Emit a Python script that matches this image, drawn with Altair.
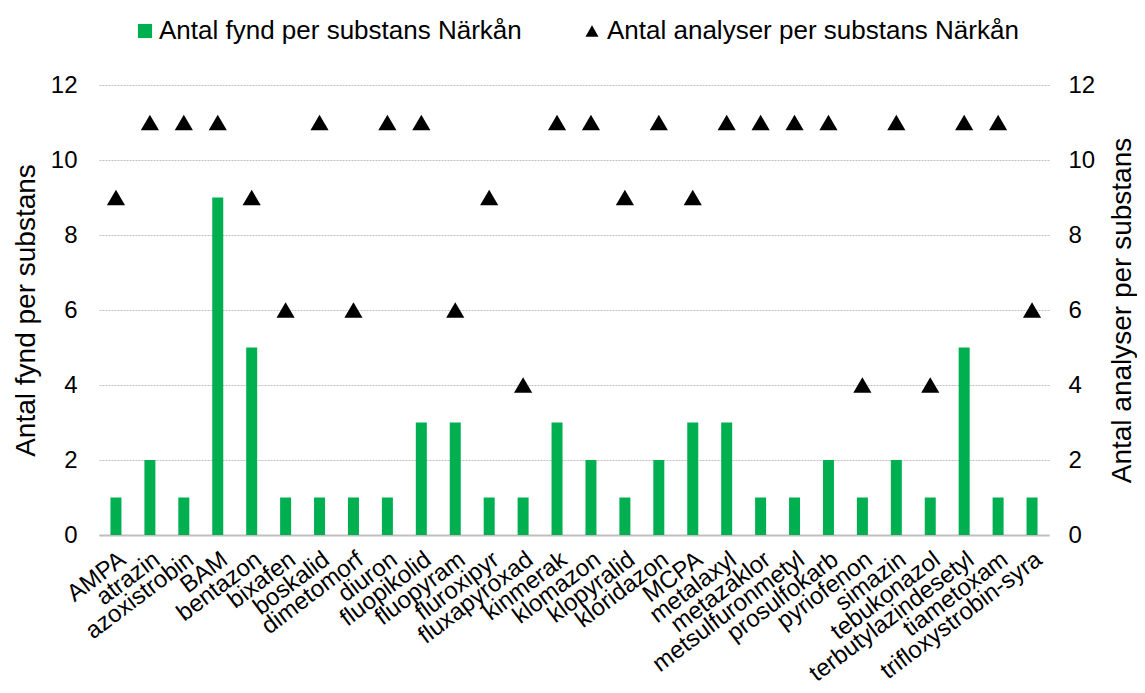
import altair as alt
import pandas as pd

substanser = [
    "AMPA", "atrazin", "azoxistrobin", "BAM", "bentazon", "bixafen", "boskalid",
    "dimetomorf", "diuron", "fluopikolid", "fluopyram", "fluroxipyr", "fluxapyroxad",
    "kinmerak", "klomazon", "klopyralid", "kloridazon", "MCPA", "metalaxyl",
    "metazaklor", "metsulfuronmetyl", "prosulfokarb", "pyriofenon", "simazin",
    "tebukonazol", "terbutylazindesetyl", "tiametoxam", "trifloxystrobin-syra",
]
fynd = [1, 2, 1, 9, 5, 1, 1, 1, 1, 3, 3, 1, 1, 3, 2, 1, 2, 3, 3, 1, 1, 2, 1, 2, 1, 5, 1, 1]
analyser = [9, 11, 11, 11, 9, 6, 11, 6, 11, 11, 6, 9, 4, 11, 11, 9, 11, 9, 11, 11, 11, 11, 4, 11, 4, 11, 11, 6]

serie_fynd = "Antal fynd per substans Närkån"
serie_analyser = "Antal analyser per substans Närkån"

df = pd.DataFrame({
    "substans": substanser,
    "fynd": fynd,
    "analyser": analyser,
    "s1": [serie_fynd] * len(substanser),
    "s2": [serie_analyser] * len(substanser),
})

FONT = "Liberation Sans"
ticks = [0, 2, 4, 6, 8, 10, 12]

xenc = alt.X(
    "substans:N", sort=substanser, title=None,
    scale=alt.Scale(paddingInner=0, paddingOuter=0),
    axis=alt.Axis(labelAngle=-37, labelFontSize=24, labelFont=FONT, labelColor="black",
                  ticks=False, domainColor="#BFBFBF", domainWidth=2, labelPadding=12,
                  labelLimit=400, labelOverlap=False),
)

bars = alt.Chart(df).mark_bar(size=11, color="#00B050").encode(
    x=xenc,
    y=alt.Y("fynd:Q", scale=alt.Scale(domain=[0, 12], nice=False),
            axis=alt.Axis(title="Antal fynd per substans", values=ticks, grid=True,
                          gridColor="#BFBFBF", gridDash=[2, 1], domain=False, ticks=False,
                          labelFontSize=24, labelFont=FONT, labelColor="black", labelPadding=22,
                          titleFontSize=28, titleFont=FONT, titleFontWeight="normal",
                          titleColor="black", titlePadding=10)),
    color=alt.Color("s1:N", scale=alt.Scale(domain=[serie_fynd], range=["#00B050"]),
                    legend=alt.Legend(title=None, orient="none", legendX=33, legendY=-67,
                                      symbolType="square", symbolSize=200, symbolStrokeWidth=0,
                                      labelFontSize=26, labelFont=FONT, labelColor="black",
                                      labelOffset=1, labelLimit=600)),
)

points = alt.Chart(df).mark_point(shape="triangle-up", filled=True, color="black",
                                   opacity=1, size=330).encode(
    x=xenc,
    y=alt.Y("analyser:Q", scale=alt.Scale(domain=[0, 12], nice=False),
            axis=alt.Axis(orient="right", title="Antal analyser per substans", values=ticks,
                          grid=False, domain=False, ticks=False,
                          labelFontSize=24, labelFont=FONT, labelColor="black", labelPadding=19,
                          titleFontSize=28, titleFont=FONT, titleFontWeight="normal",
                          titleColor="black", titlePadding=14, titleAngle=270,
                          titleBaseline="top")),
    shape=alt.Shape("s2:N", scale=alt.Scale(domain=[serie_analyser], range=["triangle-up"]),
                    legend=alt.Legend(title=None, orient="none", legendX=480, legendY=-67,
                                      symbolFillColor="black", symbolStrokeColor="black",
                                      symbolSize=170, labelFontSize=26, labelFont=FONT,
                                      labelColor="black", labelOffset=2, labelLimit=600)),
)

chart = alt.layer(bars, points).resolve_scale(y="independent").properties(
    width=950, height=450,
    padding={"left": 4, "top": 10, "right": 0, "bottom": 0},
).configure_view(stroke=None)

chart.save("out.html", embed_options={"renderer": "svg", "actions": False})
